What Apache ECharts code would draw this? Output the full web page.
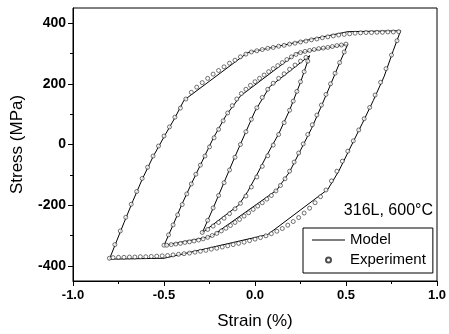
<!DOCTYPE html>
<html><head><meta charset="utf-8">
<script src="https://cdn.jsdelivr.net/npm/echarts@6/dist/echarts.min.js"></script>
<style>html,body{margin:0;padding:0;background:#fff}#c{width:449px;height:334px}</style>
</head><body><div id="c"></div>
<script>
// Tick values
const xTicks = [-1.0, -0.5, 0.0, 0.5, 1.0];
const yTicks = [-400, -200, 0, 200, 400];
const yMinorTicks = [-300, -100, 100, 300];

// Model loops (strain %, stress MPa)
const modelLoop08 = [[-0.80,-378],[-0.76,-318],[-0.72,-258],[-0.67,-185],[-0.62,-115],[-0.56,-40],[-0.50,25],[-0.44,88],[-0.39,146],[-0.04,303],[0.51,372],[0.80,375],[0.76,310],[0.71,225],[0.65,145],[0.59,70],[0.52,-15],[0.46,-88],[0.40,-148],[0.07,-297],[-0.50,-375],[-0.80,-378]];
const modelLoop05 = [[-0.50,-333],[-0.45,-265],[-0.40,-195],[-0.35,-130],[-0.29,-55],[-0.23,20],[-0.16,95],[-0.08,160],[0.23,301],[0.51,331],[0.46,262],[0.41,190],[0.36,120],[0.31,52],[0.25,-19],[0.19,-90],[0.12,-150],[-0.24,-303],[-0.50,-333]];
const modelLoop03 = [[-0.29,-291],[-0.23,-210],[-0.17,-125],[-0.11,-40],[-0.05,42],[0.00,110],[0.08,190],[0.30,293],[0.25,205],[0.19,113],[0.13,35],[0.07,-30],[0.01,-100],[-0.04,-155],[-0.09,-200],[-0.29,-291]];

// Experiment points
const expLoop08 = [[-0.80,-375],[-0.77,-330],[-0.74,-285],[-0.71,-240],[-0.68,-197],[-0.65,-155],[-0.62,-112],[-0.59,-75],[-0.56,-38],[-0.53,-5],[-0.50,28],[-0.47,58],[-0.44,90],[-0.41,120],[-0.38,150],[-0.35,172],[-0.32,189],[-0.29,204],[-0.26,218],[-0.23,232],[-0.20,244],[-0.17,256],[-0.14,268],[-0.11,278],[-0.08,289],[-0.05,298],[-0.02,305],[0.01,309],[0.04,313],[0.07,317],[0.10,320],[0.13,324],[0.16,327],[0.19,331],[0.22,334],[0.25,338],[0.28,341],[0.31,345],[0.34,348],[0.37,352],[0.40,355],[0.43,358],[0.46,361],[0.49,363],[0.52,365],[0.55,367],[0.58,368],[0.61,369],[0.64,369],[0.67,370],[0.70,370],[0.73,371],[0.76,371],[0.79,372],
[0.78,342],[0.75,295],[0.72,250],[0.69,205],[0.66,163],[0.63,122],[0.60,85],[0.57,48],[0.54,12],[0.51,-22],[0.48,-55],[0.45,-88],[0.42,-120],[0.39,-150],[0.36,-172],[0.33,-192],[0.30,-210],[0.27,-226],[0.24,-241],[0.21,-254],[0.18,-266],[0.15,-277],[0.12,-286],[0.09,-294],[0.06,-301],[0.03,-307],[0.00,-312],[-0.03,-317],[-0.06,-322],[-0.09,-326],[-0.12,-330],[-0.15,-334],[-0.18,-338],[-0.21,-342],[-0.24,-345],[-0.27,-349],[-0.30,-352],[-0.33,-355],[-0.36,-358],[-0.39,-360],[-0.42,-362],[-0.45,-364],[-0.48,-366],[-0.51,-367],[-0.54,-368],[-0.57,-369],[-0.60,-370],[-0.63,-370],[-0.66,-371],[-0.69,-371],[-0.72,-372],[-0.75,-372],[-0.78,-373]];
const expLoop05 = [[-0.50,-332],[-0.475,-298],[-0.45,-265],[-0.425,-232],[-0.40,-198],[-0.375,-163],[-0.35,-130],[-0.325,-98],[-0.30,-68],[-0.275,-38],[-0.25,-8],[-0.225,22],[-0.20,50],[-0.175,78],[-0.15,104],[-0.125,128],[-0.10,150],[-0.075,168],[-0.05,182],[-0.025,195],[0.00,207],[0.025,218],[0.05,229],[0.075,240],[0.10,250],[0.125,260],[0.15,270],[0.175,280],[0.20,289],[0.225,297],[0.25,303],[0.275,307],[0.30,310],[0.325,313],[0.35,316],[0.375,318],[0.40,320],[0.425,323],[0.45,326],[0.475,328],[0.50,331],
[0.49,305],[0.465,270],[0.44,235],[0.415,200],[0.39,165],[0.365,130],[0.34,97],[0.315,65],[0.29,33],[0.265,2],[0.24,-28],[0.215,-58],[0.19,-88],[0.165,-113],[0.14,-135],[0.115,-153],[0.09,-168],[0.065,-180],[0.04,-192],[0.015,-203],[-0.01,-214],[-0.035,-225],[-0.06,-236],[-0.085,-247],[-0.11,-257],[-0.135,-267],[-0.16,-276],[-0.185,-285],[-0.21,-293],[-0.235,-300],[-0.26,-306],[-0.285,-311],[-0.31,-315],[-0.335,-318],[-0.36,-321],[-0.385,-323],[-0.41,-326],[-0.435,-328],[-0.46,-330],[-0.485,-332]];
const expLoop03 = [[-0.29,-290],[-0.26,-250],[-0.23,-209],[-0.20,-168],[-0.17,-126],[-0.14,-84],[-0.11,-42],[-0.08,0],[-0.05,42],[-0.02,83],[0.01,121],[0.04,155],[0.07,182],[0.10,202],[0.13,218],[0.16,233],[0.19,248],[0.22,262],[0.25,275],[0.28,287],
[0.29,275],[0.27,240],[0.25,207],[0.23,175],[0.21,143],[0.19,113],[0.16,72],[0.13,33],[0.10,-2],[0.07,-37],[0.04,-72],[0.01,-107],[-0.02,-140],[-0.05,-170],[-0.08,-194],[-0.11,-212],[-0.14,-228],[-0.17,-243],[-0.20,-257],[-0.23,-269],[-0.26,-280]];

const FONT = '"Liberation Sans", Arial, sans-serif';
const chart = echarts.init(document.getElementById('c'), null, {renderer: 'canvas'});

function modelSeries(data) {
  return {type:'line', name:'Model', data:data, symbol:'none', showSymbol:false,
    lineStyle:{color:'#000', width:1}, itemStyle:{color:'#000'}, z:3, animation:false};
}
function expSeries(data) {
  return {type:'scatter', name:'Experiment', data:data, symbol:'circle', symbolSize:4,
    itemStyle:{color:'#fff', borderColor:'#222', borderWidth:0.8}, z:4, animation:false};
}

chart.setOption({
  animation:false,
  backgroundColor:'#fff',
  grid:{left:73, right:12, top:8, bottom:53, show:true, borderColor:'#000', borderWidth:1, containLabel:false, outerBoundsMode:'none'},
  xAxis:{type:'value', min:-1, max:1, interval:0.5,
    axisLine:{onZero:false, lineStyle:{color:'#000', width:1}},
    axisTick:{inside:false, length:5, lineStyle:{color:'#000'}},
    minorTick:{show:true, splitNumber:2, length:3, lineStyle:{color:'#000'}},
    splitLine:{show:false},
    axisLabel:{formatter:v=>v.toFixed(1), fontSize:13, fontWeight:'bold', color:'#000', margin:8, fontFamily:FONT},
    name:'Strain (%)', nameLocation:'middle', nameGap:32,
    nameTextStyle:{fontSize:17, color:'#000', fontFamily:FONT}},
  yAxis:[{type:'value', min:-450, max:450, position:'left',
    axisLine:{onZero:false, lineStyle:{color:'#000', width:1}},
    axisTick:{inside:false, length:5, customValues:yTicks, lineStyle:{color:'#000'}},
    splitLine:{show:false},
    axisLabel:{customValues:yTicks, fontSize:14, fontWeight:'bold', color:'#000', margin:7, fontFamily:FONT},
    name:'Stress (MPa)', nameLocation:'middle', nameGap:47,
    nameTextStyle:{fontSize:17, color:'#000', fontFamily:FONT}},
   {type:'value', min:-450, max:450, position:'left', offset:0,
    axisLine:{show:false, onZero:false},
    axisTick:{inside:false, length:3, customValues:yMinorTicks, lineStyle:{color:'#000'}},
    axisLabel:{show:false}, splitLine:{show:false}}],
  legend:{data:[{name:'Model', icon:'path://M0,0L34,0L34,1L0,1Z'},{name:'Experiment'}],
    orient:'vertical', left:303, top:228,
    itemWidth:33, itemHeight:5, itemGap:4, padding:[4,7,5,9],
    borderColor:'#000', borderWidth:1, selectedMode:false,
    textStyle:{fontSize:15, fontFamily:FONT, color:'#000', lineHeight:16}},
  graphic:[{type:'text', right:16, top:203, style:{text:'316L, 600°C', fontSize:16, fontFamily:FONT, fill:'#000'}}],
  series:[modelSeries(modelLoop08), modelSeries(modelLoop05), modelSeries(modelLoop03),
    expSeries(expLoop08), expSeries(expLoop05), expSeries(expLoop03)]
});
</script></body></html>
